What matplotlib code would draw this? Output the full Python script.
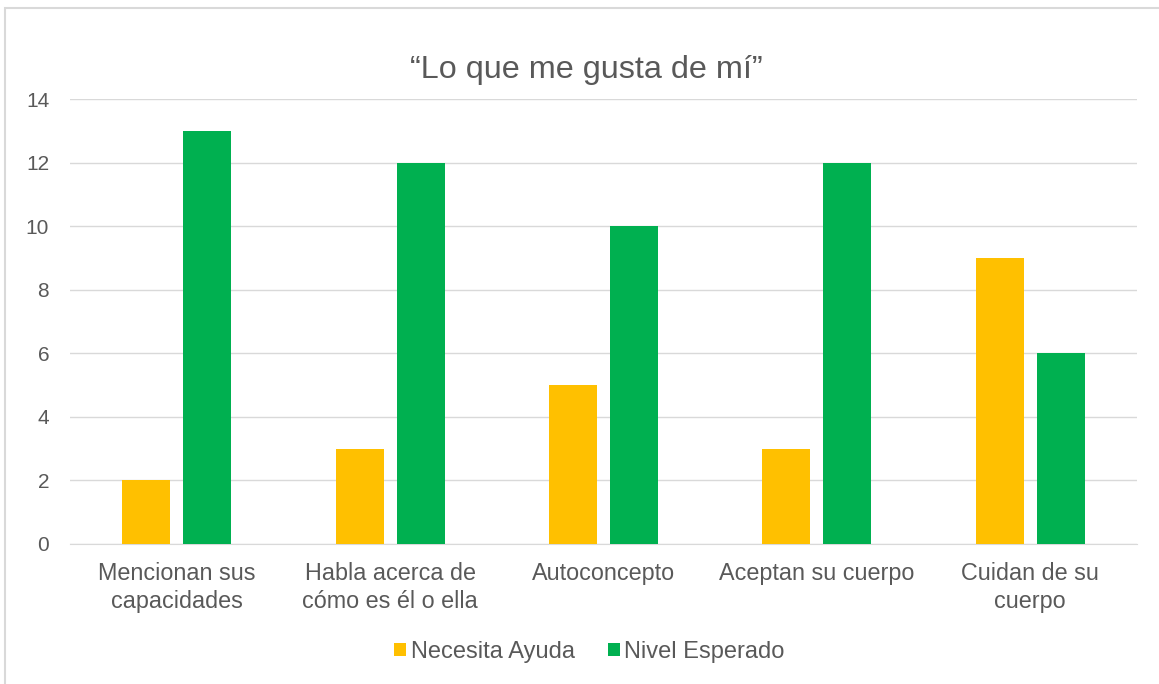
import numpy as np
import matplotlib.pyplot as plt
from matplotlib.patches import Rectangle

categories = ["Mencionan sus\ncapacidades", "Habla acerca de\ncómo es él o ella",
              "Autoconcepto", "Aceptan su cuerpo", "Cuidan de su\ncuerpo"]
necesita_ayuda = [2, 3, 5, 3, 9]
nivel_esperado = [13, 12, 10, 12, 6]

plt.rcParams['font.family'] = ['Liberation Sans', 'DejaVu Sans']
txt = '#595959'

fig = plt.figure(figsize=(11.59, 6.84), dpi=100)
fig.patches.append(Rectangle((5 / 1159, -0.01), 1.02, 1 - 8 / 684 + 0.01,
                             transform=fig.transFigure, fill=False,
                             edgecolor='#d9d9d9', linewidth=1.5))
ax = fig.add_axes([0.0604, 0.2047, 0.9206, 0.6503])

x = np.arange(len(categories))
w = 0.225
ax.bar(x - 0.143, necesita_ayuda, w, color='#FFC000', label='Necesita Ayuda', zorder=3)
ax.bar(x + 0.143, nivel_esperado, w, color='#00B050', label='Nivel Esperado', zorder=3)

ax.set_xlim(-0.5, len(categories) - 0.5)
ax.set_ylim(0, 14)
ax.set_yticks(range(0, 15, 2))
ax.set_xticks(x)
ax.set_xticklabels(categories, fontsize=16.8, color=txt, linespacing=1.25)
ax.tick_params(axis='y', labelsize=15, colors=txt, length=0, pad=15)
ax.tick_params(axis='x', length=0, pad=13)
ax.grid(axis='y', color='#d9d9d9', linewidth=1, zorder=0)
for s in ['top', 'right', 'left']:
    ax.spines[s].set_visible(False)
ax.spines['bottom'].set_color('#d9d9d9')

fig.text(0.5055, 0.898, '\u201cLo que me gusta de mí\u201d', ha='center', va='center',
         fontsize=23.3, color=txt)
ax.legend(loc='center', bbox_to_anchor=(0.487, -0.243), ncol=2, frameon=False,
          fontsize=17, labelcolor=txt, handlelength=0.5, handleheight=0.5,
          handletextpad=0.2, columnspacing=1.4)

fig.savefig('out.png', dpi=100)
